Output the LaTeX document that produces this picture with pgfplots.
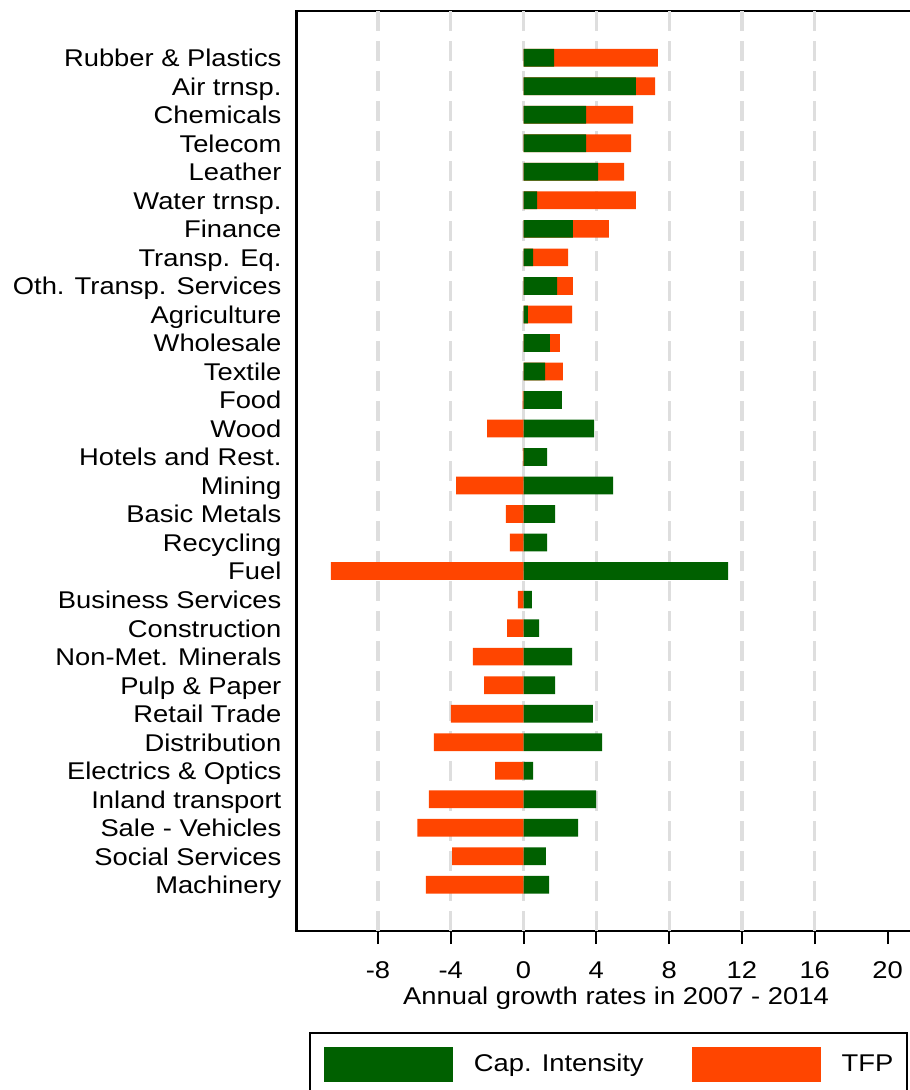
\documentclass[border=0pt]{standalone}
\usepackage{fontspec}
\setmainfont{Liberation Sans}[FakeStretch=1.13]
\usepackage{pgfplots}
\pgfplotsset{compat=1.18}
\usepackage{pgfplotstable}

\definecolor{capgreen}{RGB}{0,96,0}
\definecolor{tfporange}{RGB}{255,69,0}
\definecolor{gridgray}{RGB}{222,222,222}

% y = row (1 = bottom), cap = capital intensity, tfpend = where the TFP bar ends
\pgfplotstableread{
y  cap    tfpend
30 1.68   7.38
29 6.17   7.23
28 3.44   6.02
27 3.44   5.91
26 4.10   5.53
25 0.75   6.17
24 2.71   4.69
23 0.53   2.45
22 1.85   2.71
21 0.24   2.67
20 1.45   2.00
19 1.19   2.16
18 2.10  -0.05
17 3.88  -2.00
16 1.30  -0.04
15 4.92  -3.70
14 1.74  -0.97
13 1.30  -0.75
12 11.24 -10.58
11 0.46  -0.31
10 0.86  -0.90
9  2.67  -2.78
8  1.74  -2.16
7  3.81  -3.99
6  4.32  -4.92
5  0.53  -1.56
4  3.99  -5.20
3  3.00  -5.84
2  1.23  -3.92
1  1.41  -5.36
}\growth

\begin{document}
\begin{tikzpicture}[font=\fontsize{12.1}{14.5}\selectfont]
\begin{axis}[
    at={(0pt,0pt)}, anchor=south west,
    scale only axis,
    width=319.6pt, height=460pt,
    xmin=-12.48, xmax=22.64,
    ymin=-0.62, ymax=31.64,
    xbar, bar width=8.85pt, bar shift=0pt,
    axis line style={black, line width=1.15pt},
    tick pos=left,
    tick align=outside,
    xtick={-8,-4,...,20},
    major tick length=6.5pt,
    x tick style={black, line width=1pt},
    y tick style={draw=none},
    ytick={1,...,30},
    yticklabels={Machinery, Social Services, Sale - Vehicles, Inland transport,
        Electrics \& Optics, Distribution, Retail Trade, Pulp \& Paper,
        Non-Met. Minerals, Construction, Business Services, Fuel, Recycling,
        Basic Metals, Mining, Hotels and Rest., Wood, Food, Textile, Wholesale,
        Agriculture, Oth. Transp. Services, Transp. Eq., Finance, Water trnsp.,
        Leather, Telecom, Chemicals, Air trnsp., Rubber \& Plastics},
    /pgf/number format/assume math mode=true,
    yticklabel style={anchor=base east, inner sep=0pt, xshift=-0.8pt, yshift=-4.45pt},
    xticklabel style={anchor=base, inner sep=0pt, yshift=-17.15pt},
    extra x ticks={-8,-4,...,16},
    extra x tick labels={},
    extra x tick style={grid=major, major tick length=0pt},
    major grid style={gridgray, line width=1.6pt, dash pattern=on 10pt off 5pt},
    xlabel={Annual growth rates in 2007 - 2014},
    xlabel style={at={(axis description cs:0.5,0)}, anchor=base, yshift=-37pt, inner sep=0pt},
    legend columns=2,
    reverse legend,
    legend style={at={(0.0197,-0.1095)}, anchor=north west,
        draw=black, line width=0.9pt,
        inner xsep=7pt, inner ysep=7.15pt,
        nodes={inner sep=0pt, anchor=west},
        /tikz/every odd column/.append style={column sep=10.5pt},
        /tikz/every even column/.append style={column sep=24pt}},
    legend image code/.code={\fill[#1] (0pt,-8.75pt) rectangle (64.5pt,8.75pt);},
]
\addplot[fill=tfporange, draw=none] table[x=tfpend, y=y] {\growth};
\addlegendentry{TFP}
\addplot[fill=capgreen, draw=none] table[x=cap, y=y] {\growth};
\addlegendentry{Cap. Intensity}
\end{axis}
\pgfresetboundingbox
\path[use as bounding box] (-148.2pt,-79.5pt) rectangle (306.3pt,465.5pt);
\end{tikzpicture}
\end{document}
